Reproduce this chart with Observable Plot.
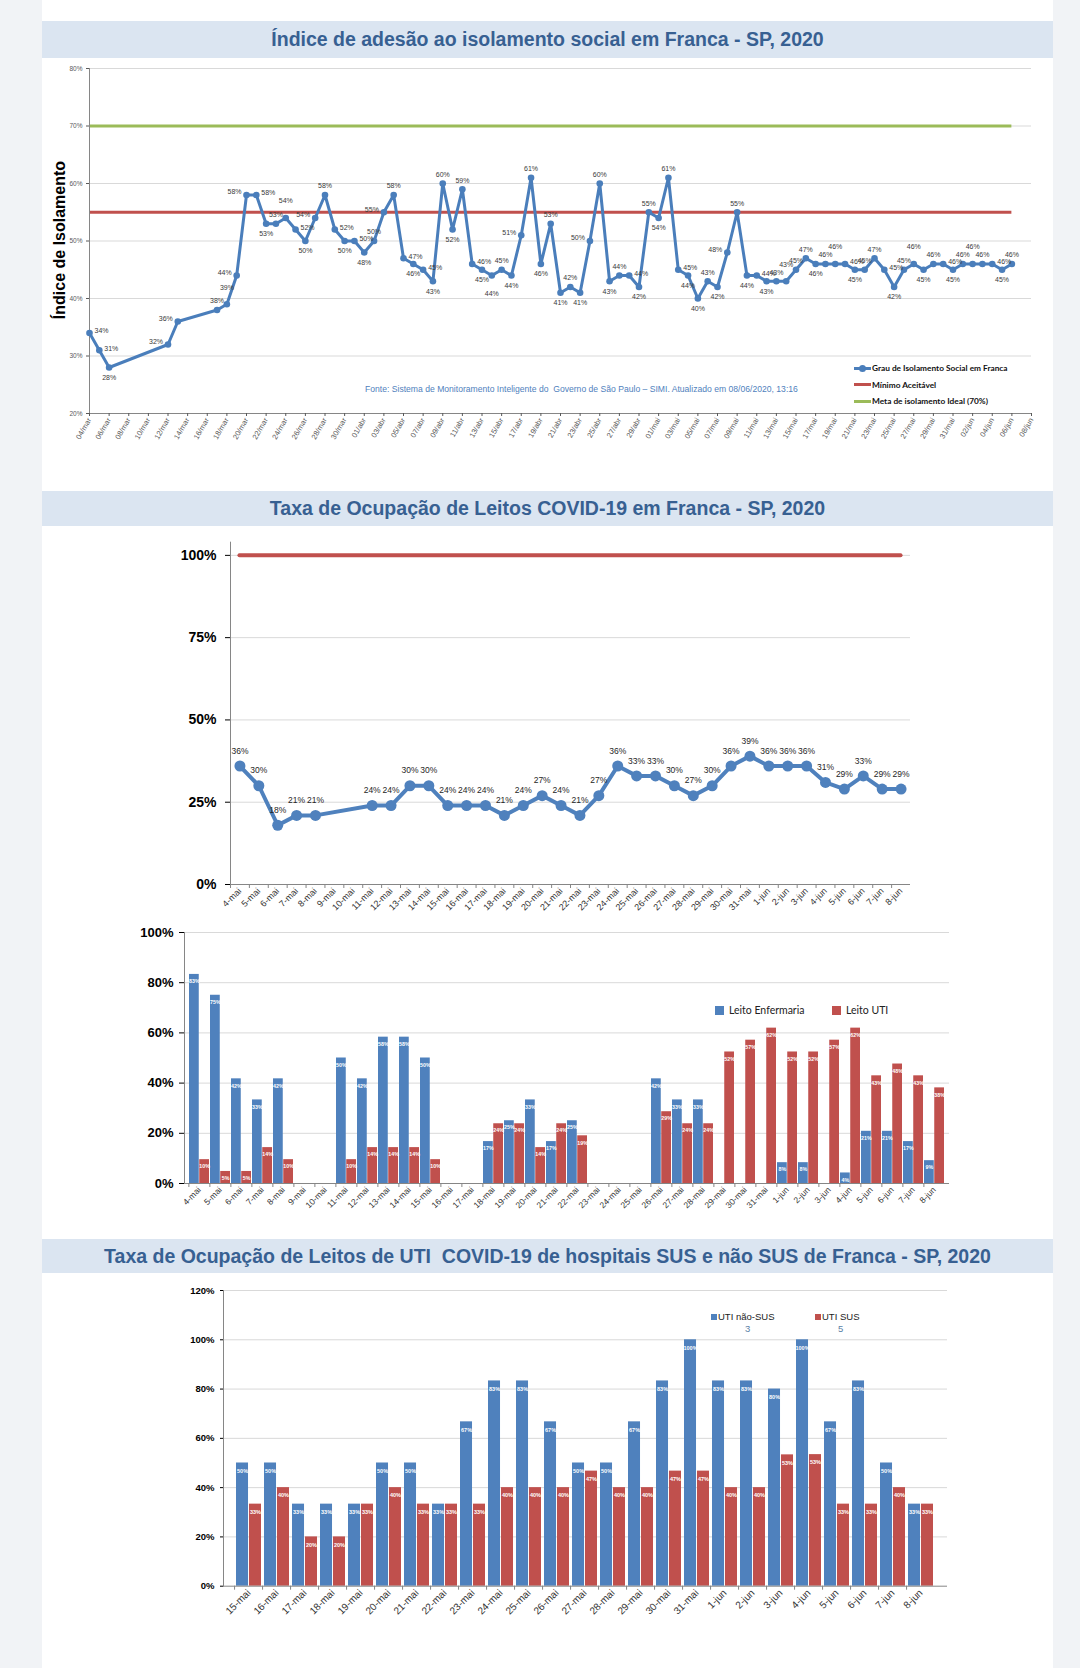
<!DOCTYPE html>
<html><head><meta charset="utf-8">
<script src="https://cdn.jsdelivr.net/npm/d3@7"></script>
<script src="https://cdn.jsdelivr.net/npm/@observablehq/plot@0.6"></script>
<style>
body{margin:0;background:#f1f3f6;width:1080px;height:1668px;position:relative;overflow:hidden;font-family:"Liberation Sans",Arial,sans-serif}
.card{position:absolute;left:42px;width:1011px;background:#fff}
.band{position:absolute;left:42px;width:1011px;background:#dbe5f1;color:#376092;font-weight:bold;font-size:19.5px;display:flex;align-items:center;justify-content:center;white-space:pre}
.abs{position:absolute;white-space:nowrap}
svg{overflow:visible}
</style></head><body>
<div class="card" style="top:0;height:1668px"></div>
<div class="band" style="top:21px;height:37px">Índice de adesão ao isolamento social em Franca - SP, 2020</div>
<div class="band" style="top:491px;height:35px">Taxa de Ocupação de Leitos COVID-19 em Franca - SP, 2020</div>
<div class="band" style="top:1239px;height:34px">Taxa de Ocupação de Leitos de UTI  COVID-19 de hospitais SUS e não SUS de Franca - SP, 2020</div>
<script>
// ---------- Chart 1: isolamento social ----------
const isoDays = [
"2020-03-04","2020-03-05","2020-03-06","2020-03-12","2020-03-13","2020-03-17","2020-03-18","2020-03-19",
"2020-03-20","2020-03-21","2020-03-22","2020-03-23","2020-03-24","2020-03-25","2020-03-26","2020-03-27","2020-03-28","2020-03-29","2020-03-30","2020-03-31",
"2020-04-01","2020-04-02","2020-04-03","2020-04-04","2020-04-05","2020-04-06","2020-04-07","2020-04-08","2020-04-09","2020-04-10",
"2020-04-11","2020-04-12","2020-04-13","2020-04-14","2020-04-15","2020-04-16","2020-04-17","2020-04-18","2020-04-19","2020-04-20",
"2020-04-21","2020-04-22","2020-04-23","2020-04-24","2020-04-25","2020-04-26","2020-04-27","2020-04-28","2020-04-29","2020-04-30",
"2020-05-01","2020-05-02","2020-05-03","2020-05-04","2020-05-05","2020-05-06","2020-05-07","2020-05-08","2020-05-09","2020-05-10",
"2020-05-11","2020-05-12","2020-05-13","2020-05-14","2020-05-15","2020-05-16","2020-05-17","2020-05-18","2020-05-19","2020-05-20",
"2020-05-21","2020-05-22","2020-05-23","2020-05-24","2020-05-25","2020-05-26","2020-05-27","2020-05-28","2020-05-29","2020-05-30","2020-05-31",
"2020-06-01","2020-06-02","2020-06-03","2020-06-04","2020-06-05","2020-06-06"];
const isoValues = [
34,31,28,32,36,38,39,44,
58,58,53,53,54,52,50,54,58,52,50,50,
48,50,55,58,47,46,45,43,60,52,
59,46,45,44,45,44,51,61,46,53,
41,42,41,50,60,43,44,44,42,55,
54,61,45,44,40,43,42,48,55,44,
44,43,43,43,45,47,46,46,46,46,
45,45,47,45,42,45,46,45,46,46,45,
46,46,46,46,45,46];
const isoYTicks = [20,30,40,50,60,70,80];
const minimoAceitavel = 55;
const metaIdeal = 70;
const mesAbrev = ["jan","fev","mar","abr","mai","jun"];
const isoXStart = "2020-03-04", isoXEnd = "2020-06-08";

// ---------- Chart 2: taxa de ocupação ----------
const cats = ["4-mai","5-mai","6-mai","7-mai","8-mai","9-mai","10-mai","11-mai","12-mai","13-mai","14-mai","15-mai","16-mai","17-mai","18-mai","19-mai","20-mai","21-mai","22-mai","23-mai","24-mai","25-mai","26-mai","27-mai","28-mai","29-mai","30-mai","31-mai","1-jun","2-jun","3-jun","4-jun","5-jun","6-jun","7-jun","8-jun"];
const ocupacao = [36,30,18,21,21,null,null,24,24,30,30,24,24,24,21,24,27,24,21,27,36,33,33,30,27,30,36,39,36,36,36,31,29,33,29,29];
const ocupTicks = [0,25,50,75,100];
const capacidade = 100;

// ---------- Chart 3: enfermaria x UTI ----------
const leitoEnfermaria = [83.3,75,41.7,33.3,41.7,null,null,50,41.7,58.3,58.3,50,null,null,16.7,25,33.3,16.7,25,null,null,null,41.7,33.3,33.3,null,null,null,8.3,8.3,null,4.2,20.8,20.8,16.7,9.1];
const leitoUTI = [9.5,4.8,4.8,14.3,9.5,null,null,9.5,14.3,14.3,14.3,9.5,null,null,23.8,23.8,14.3,23.8,19,null,null,null,28.6,23.8,23.8,52.4,57.1,61.9,52.4,52.4,57.1,61.9,42.9,47.6,42.9,38.1];
const leitoTicks = [0,20,40,60,80,100];

// ---------- Chart 4: UTI SUS x não SUS ----------
const cats4 = ["15-mai","16-mai","17-mai","18-mai","19-mai","20-mai","21-mai","22-mai","23-mai","24-mai","25-mai","26-mai","27-mai","28-mai","29-mai","30-mai","31-mai","1-jun","2-jun","3-jun","4-jun","5-jun","6-jun","7-jun","8-jun"];
const utiNaoSUS = [50,50,33.3,33.3,33.3,50,50,33.3,66.7,83.3,83.3,66.7,50,50,66.7,83.3,100,83.3,83.3,80,100,66.7,83.3,50,33.3];
const utiSUS = [33.3,40,20,20,33.3,40,33.3,33.3,33.3,40,40,40,46.7,40,40,46.7,46.7,40,40,53.3,53.4,33.3,33.3,40,33.3];
const utiTicks = [0,20,40,60,80,100,120];

const BLUE = "#4f81bd", RED = "#c0504d", GREEN = "#9bbb59", AXIS = "#868686", GRID = "#d9d9d9";
const pct = d => Math.round(d) + "%";
function mount(el, top){ el.style.position="absolute"; el.style.left="0px"; el.style.top=top+"px"; document.body.appendChild(el); }
function addDiv(html, css){ const d=document.createElement("div"); d.className="abs"; d.innerHTML=html; d.style.cssText += css; document.body.appendChild(d); return d; }

// ===== Chart 1 =====
const parse = d3.utcParse("%Y-%m-%d");
const iso = isoDays.map((d,i)=>({date: parse(d), v: isoValues[i]}));
iso.forEach((d,i)=>{
  const p = i>0?iso[i-1].v:d.v, n = i<iso.length-1?iso[i+1].v:d.v;
  const s1 = Math.sign(d.v-p), s2 = Math.sign(n-d.v);
  let pos;
  if (i === iso.length-1) pos = "above";
  else if (s1>0 && s2<0) pos = "above";
  else if (s1<0 && s2>0) pos = "below";
  else if (s1>0 && s2>=0) pos = (d.v - p >= 4) ? "left" : "above";
  else if (s1<=0 && s2<0) pos = "right";
  else if (s1<0 && s2===0) pos = "below";
  else pos = "above";
  d.pos = pos;
});
// stagger consecutive labels on the same side at the same level
iso.forEach((d,i)=>{
  const prev = iso[i-1];
  if (!prev) return;
  if (d.pos==="above" && prev.pos==="above" && Math.abs(prev.v-d.v)<=1) d.pos = "above2";
  else if (d.pos==="below" && prev.pos==="below" && Math.abs(prev.v-d.v)<=1) d.pos = "below2";
  else if (d.pos==="right" && prev.pos==="right" && Math.abs(prev.v-d.v)<=1) d.pos = "below";
});
const xTicks1 = d3.utcDay.range(parse(isoXStart), d3.utcDay.offset(parse(isoXEnd),1), 2);
const fmt1 = d => String(d.getUTCDate()).padStart(2,"0") + "/" + mesAbrev[d.getUTCMonth()];
const firstDate = iso[0].date, lastDate = iso[iso.length-1].date;
const lab1 = {x:"date", y:"v", text:d=>d.v+"%", fill:"#3a3a3a"};
const c1 = Plot.plot({
  width:1080, height:410, marginTop:8, marginBottom:57, marginLeft:89, marginRight:49,
  style:{fontFamily:"Liberation Sans, Arial, sans-serif", fontSize:"7px", color:"#404040", background:"none", overflow:"visible"},
  x:{type:"utc", domain:[parse(isoXStart), parse(isoXEnd)], label:null},
  y:{domain:[20,80], label:null},
  marks:[
    Plot.ruleY(isoYTicks, {stroke:GRID}),
    Plot.ruleY([minimoAceitavel], {x1:()=>firstDate, x2:()=>lastDate, stroke:RED, strokeWidth:3}),
    Plot.ruleY([metaIdeal], {x1:()=>firstDate, x2:()=>lastDate, stroke:GREEN, strokeWidth:3}),
    Plot.ruleX([parse(isoXStart)], {stroke:AXIS}),
    Plot.ruleY([20], {stroke:AXIS}),
    Plot.line(iso, {x:"date", y:"v", stroke:"#4a7ebb", strokeWidth:3}),
    Plot.dot(iso, {x:"date", y:"v", r:3.3, fill:"#4a7ebb"}),
    Plot.text(iso.filter(d=>d.pos==="above"), {...lab1, dy:-9}),
    Plot.text(iso.filter(d=>d.pos==="above2"), {...lab1, dy:-17}),
    Plot.text(iso.filter(d=>d.pos==="below"), {...lab1, dy:10}),
    Plot.text(iso.filter(d=>d.pos==="below2"), {...lab1, dy:18}),
    Plot.text(iso.filter(d=>d.pos==="left"), {...lab1, dx:-5, dy:-3, textAnchor:"end"}),
    Plot.text(iso.filter(d=>d.pos==="right"), {...lab1, dx:5, dy:-2, textAnchor:"start"}),
    Plot.axisY({ticks:isoYTicks, tickFormat:d=>d+"%", tickSize:3, tickPadding:4, fontSize:6.5, color:"#595959", label:null}),
    Plot.axisX({ticks:xTicks1, tickFormat:fmt1, tickRotate:-60, tickSize:3, tickPadding:2, fontSize:7.5, color:"#595959", label:null})
  ]
});
mount(c1, 60);
addDiv("Índice de Isolamento", "left:60px;top:240px;font:bold 16px 'Liberation Sans',Arial,sans-serif;color:#000;transform:translate(-50%,-50%) rotate(-90deg);");
addDiv("Fonte: Sistema de Monitoramento Inteligente do&nbsp; Governo de São Paulo – SIMI. Atualizado em 08/06/2020, 13:16", "left:365px;top:384px;font:8.6px 'Liberation Sans',Arial,sans-serif;color:#4f81bd;");
const leg1 = [["Grau de Isolamento Social em Franca","#4a7ebb",true],["Mínimo Aceitável",RED,false],["Meta de isolamento Ideal (70%)",GREEN,false]];
leg1.forEach(([t,c,dot],i)=>{
  const y = 368 + i*16.5;
  addDiv("", `left:854px;top:${y-1.5}px;width:17px;height:3px;background:${c};`);
  if (dot) addDiv("", `left:859px;top:${y-3.5}px;width:7px;height:7px;border-radius:50%;background:${c};`);
  addDiv(t, `left:872px;top:${y-6}px;font:bold 8.3px Lato,sans-serif;color:#111;line-height:12px;`);
});

// ===== Chart 2 =====
const occData = cats.map((c,i)=>({cat:c, v:ocupacao[i]})).filter(d=>d.v!=null);
const m2 = {l:230, r:170};
const step2 = (1080-m2.l-m2.r)/cats.length;
const c2 = Plot.plot({
  width:1080, height:390, marginTop:11.7, marginBottom:36, marginLeft:m2.l, marginRight:m2.r,
  style:{fontFamily:"Liberation Sans, Arial, sans-serif", fontSize:"9px", color:"#262626", background:"none", overflow:"visible"},
  x:{type:"point", domain:cats, padding:0.5, label:null},
  y:{domain:[0,104], label:null},
  marks:[
    Plot.ruleY(ocupTicks.filter(d=>d>0), {stroke:GRID}),
    Plot.ruleY([capacidade], {x1:()=>cats[0], x2:()=>cats[cats.length-1], stroke:RED, strokeWidth:4, strokeLinecap:"round"}),
    Plot.ruleX([cats[0]], {dx:-step2/2, stroke:AXIS}),
    Plot.ruleY([0], {stroke:AXIS}),
    Plot.line(occData, {x:"cat", y:"v", stroke:BLUE, strokeWidth:4}),
    Plot.dot(occData, {x:"cat", y:"v", r:5.5, fill:BLUE}),
    Plot.text(occData, {x:"cat", y:"v", text:d=>d.v+"%", dy:-15, fontSize:8.5, fill:"#262626"}),
    Plot.axisY({ticks:ocupTicks, tickFormat:d=>d+"%", tickSize:5, tickPadding:9, fontSize:14, fontWeight:"bold", color:"#000", label:null}),
    Plot.axisX({tickSize:0, tickRotate:-45, tickPadding:5, fontSize:9, color:"#333", label:null}),
    Plot.axisX({tickSize:4, tickFormat:()=>"", dx:-step2/2, color:AXIS, label:null})
  ]
});
mount(c2, 530);

// ===== Chart 3 =====
const p3 = 0.035, m3 = {l:184, r:131};
const step3 = (1080-m3.l-m3.r)/(cats.length+p3), bw3 = step3*(1-p3);
const enf = cats.map((c,i)=>({cat:c, v:leitoEnfermaria[i]})).filter(d=>d.v!=null);
const uti = cats.map((c,i)=>({cat:c, v:leitoUTI[i]})).filter(d=>d.v!=null);
const c3 = Plot.plot({
  width:1080, height:300, marginTop:12, marginBottom:37, marginLeft:m3.l, marginRight:m3.r,
  style:{fontFamily:"Liberation Sans, Arial, sans-serif", fontSize:"8px", color:"#262626", background:"none", overflow:"visible"},
  x:{type:"band", domain:cats, padding:p3, label:null},
  y:{domain:[0,100], label:null},
  marks:[
    Plot.ruleY(leitoTicks.filter(d=>d>0), {stroke:GRID}),
    Plot.barY(enf, {x:"cat", y:"v", fill:BLUE, insetRight:bw3/2}),
    Plot.barY(uti, {x:"cat", y:"v", fill:RED, insetLeft:bw3/2}),
    Plot.text(enf, {x:"cat", y:"v", text:d=>pct(d.v), dx:-bw3/4, dy:7, fill:"#fff", fontSize:5.3, fontWeight:"bold"}),
    Plot.text(uti, {x:"cat", y:"v", text:d=>pct(d.v), dx:bw3/4, dy:7, fill:"#fff", fontSize:5.3, fontWeight:"bold"}),
    Plot.frame({anchor:"left", stroke:AXIS}),
    Plot.ruleY([0], {stroke:AXIS}),
    Plot.axisY({ticks:leitoTicks, tickFormat:d=>d+"%", tickSize:5, tickPadding:6, fontSize:13, fontWeight:"bold", color:"#000", label:null}),
    Plot.axisX({tickSize:0, tickRotate:-45, tickPadding:5, fontSize:8.5, color:"#333", label:null}),
    Plot.axisX({tickSize:4, tickFormat:()=>"", dx:-step3/2, color:AXIS, label:null})
  ]
});
mount(c3, 920);
addDiv("", `left:715px;top:1006px;width:9px;height:9px;background:${BLUE};`);
addDiv("Leito Enfermaria", "left:729px;top:1003px;font:10.5px Lato,sans-serif;color:#222;line-height:14px;");
addDiv("", `left:832px;top:1006px;width:9px;height:9px;background:${RED};`);
addDiv("Leito UTI", "left:846px;top:1003px;font:10.5px Lato,sans-serif;color:#222;line-height:14px;");

// ===== Chart 4 =====
const p4 = 0.1, m4 = {l:223, r:133};
const step4 = (1080-m4.l-m4.r)/(cats4.length+p4), bw4 = step4*(1-p4);
const nsus = cats4.map((c,i)=>({cat:c, v:utiNaoSUS[i]}));
const sus = cats4.map((c,i)=>({cat:c, v:utiSUS[i]}));
const c4 = Plot.plot({
  width:1080, height:388, marginTop:10, marginBottom:82.3, marginLeft:m4.l, marginRight:m4.r,
  style:{fontFamily:"Liberation Sans, Arial, sans-serif", fontSize:"9px", color:"#262626", background:"none", overflow:"visible"},
  x:{type:"band", domain:cats4, padding:p4, label:null},
  y:{domain:[0,120], label:null},
  marks:[
    Plot.ruleY(utiTicks.filter(d=>d>0), {stroke:GRID}),
    Plot.barY(nsus, {x:"cat", y:"v", fill:BLUE, insetRight:bw4/2}),
    Plot.barY(sus, {x:"cat", y:"v", fill:RED, insetLeft:bw4/2}),
    Plot.text(nsus, {x:"cat", y:"v", text:d=>pct(d.v), dx:-bw4/4, dy:8, fill:"#fff", fontSize:5.5, fontWeight:"bold"}),
    Plot.text(sus, {x:"cat", y:"v", text:d=>pct(d.v), dx:bw4/4, dy:8, fill:"#fff", fontSize:5.5, fontWeight:"bold"}),
    Plot.frame({anchor:"left", stroke:AXIS}),
    Plot.ruleY([0], {stroke:AXIS}),
    Plot.axisY({ticks:utiTicks, tickFormat:d=>d+"%", tickSize:3, tickPadding:6, fontSize:9.5, fontWeight:"bold", color:"#000", label:null}),
    Plot.axisX({tickSize:0, tickRotate:-45, tickPadding:5, fontSize:10, color:"#333", label:null}),
    Plot.axisX({tickSize:4, tickFormat:()=>"", dx:-step4/2, color:AXIS, label:null})
  ]
});
mount(c4, 1280);
addDiv("", `left:711px;top:1314px;width:6px;height:6px;background:${BLUE};`);
addDiv("UTI não-SUS", "left:718px;top:1311px;font:9.5px 'Liberation Sans',Arial,sans-serif;color:#222;line-height:12px;");
addDiv("3", "left:745px;top:1323px;font:9.5px 'Liberation Sans',Arial,sans-serif;color:#5b7fa6;line-height:12px;");
addDiv("", `left:815px;top:1314px;width:6px;height:6px;background:${RED};`);
addDiv("UTI SUS", "left:822px;top:1311px;font:9.5px 'Liberation Sans',Arial,sans-serif;color:#222;line-height:12px;");
addDiv("5", "left:838px;top:1323px;font:9.5px 'Liberation Sans',Arial,sans-serif;color:#5b7fa6;line-height:12px;");
</script>
</body></html>
